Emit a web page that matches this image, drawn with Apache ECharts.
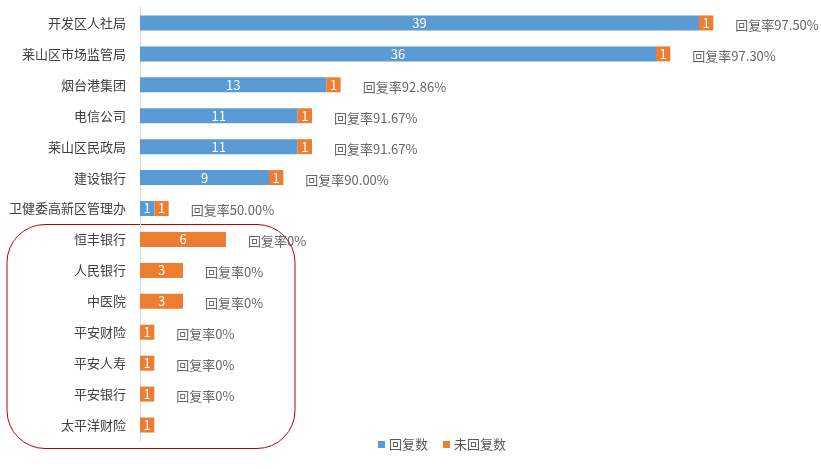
<!DOCTYPE html>
<html>
<head>
<meta charset="utf-8">
<script src="https://cdn.jsdelivr.net/npm/echarts@6/dist/echarts.min.js"></script>
<style>html,body{margin:0;padding:0;background:#fff}#c{width:821px;height:469px}</style>
</head>
<body>
<div id="c"></div>
<script>
const categories = ['开发区人社局','莱山区市场监管局','烟台港集团','电信公司','莱山区民政局','建设银行','卫健委高新区管理办','恒丰银行','人民银行','中医院','平安财险','平安人寿','平安银行','太平洋财险'];
const replied = [39,36,13,11,11,9,1,0,0,0,0,0,0,0];
const notReplied = [1,1,1,1,1,1,1,6,3,3,1,1,1,1];
const rates = ['97.50%','97.30%','92.86%','91.67%','91.67%','90.00%','50.00%','0%','0%','0%','0%','0%','0%',null];

const font = '"Noto Sans CJK SC", "Microsoft YaHei", sans-serif';
const chart = echarts.init(document.getElementById('c'));
const inLabel = {
  show: true, position: 'inside', color: '#fff', fontSize: 13, fontFamily: font,
  formatter: p => (p.value ? String(p.value) : '')
};
chart.setOption({
  animation: false,
  textStyle: { fontFamily: font },
  grid: { left: 140, right: 36, top: 7.5, bottom: 28.5, outerBoundsMode: 'none' },
  xAxis: { type: 'value', min: 0, max: 45, show: false },
  yAxis: {
    type: 'category', inverse: true, data: categories,
    axisLine: { lineStyle: { color: '#d9d9d9', width: 1 } },
    axisTick: { show: false },
    axisLabel: { margin: 14, fontSize: 13, color: '#404040', fontFamily: font }
  },
  legend: {
    data: ['回复数','未回复数'], left: 373, top: 433,
    itemWidth: 7, itemHeight: 7, itemGap: 15, icon: 'rect',
    textStyle: { fontSize: 13, color: '#595959', fontFamily: font, padding: [0,0,0,-1] }
  },
  series: [
    { name: '回复数', type: 'bar', stack: 't', barWidth: 15, data: replied,
      itemStyle: { color: '#5b9bd5' }, label: inLabel },
    { name: '未回复数', type: 'bar', stack: 't', barWidth: 15, data: notReplied,
      itemStyle: { color: '#ed7d31' }, label: inLabel },
    { name: 'rate', type: 'scatter', symbolSize: 0, silent: true,
      data: categories.map((c, i) => rates[i] ? { value: [replied[i] + notReplied[i], c], rate: rates[i] } : null).filter(Boolean),
      label: { show: true, position: 'right', distance: 22, offset: [0, 2], fontSize: 13, color: '#404040', fontFamily: font,
        formatter: p => '回复率' + p.data.rate }
    }
  ],
  graphic: [{
    type: 'rect', shape: { x: 7, y: 224.5, width: 288, height: 224, r: 38 },
    style: { fill: 'none', stroke: '#c00000', lineWidth: 1 }, silent: true
  }]
});
</script>
</body>
</html>
